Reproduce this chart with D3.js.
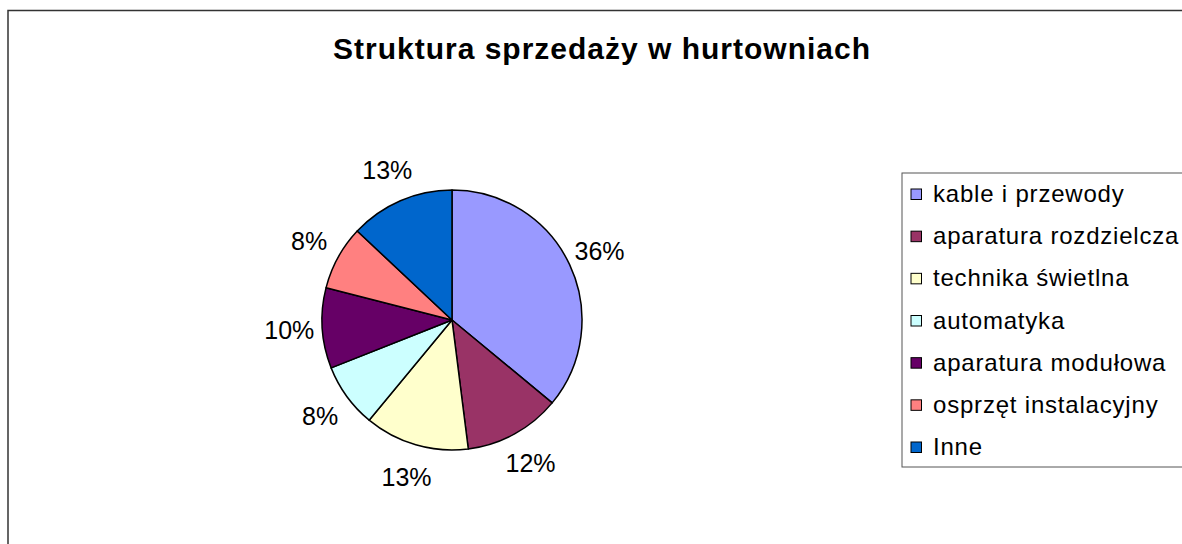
<!DOCTYPE html>
<html>
<head>
<meta charset="utf-8">
<title>Struktura sprzedaży w hurtowniach</title>
<script src="https://cdn.jsdelivr.net/npm/d3@7"></script>
<style>
  body { margin: 0; background: #fff; }
  svg { display: block; font-family: "Liberation Sans", Arial, sans-serif; }
</style>
</head>
<body>
<div id="chart"></div>
<script>
// Chart data
const categories = ["kable i przewody", "aparatura rozdzielcza", "technika świetlna", "automatyka",
                    "aparatura modułowa", "osprzęt instalacyjny", "Inne"]
const shares = [36, 12, 13, 8, 10, 8, 13]
const colors = ["#9999FF", "#993366", "#FFFFCC", "#CCFFFF", "#660066", "#FF8080", "#0066CC"]
const title = "Struktura sprzedaży w hurtowniach"

// Size
let w = 1182
let h = 544
let cx = 452
let cy = 320
let radius = 130

let svg = d3.select("#chart")
    .append("svg")
    .attr("width", w)
    .attr("height", h)

// Outer chart frame (right and bottom edges fall outside the picture)
svg.append("rect")
    .attr("x", 8)
    .attr("y", 10.5)
    .attr("width", w + 20)
    .attr("height", h + 20)
    .attr("fill", "#fff")
    .attr("stroke", "#333")
    .attr("stroke-width", 1.5)

// Title
svg.append("text")
    .attr("x", 602)
    .attr("y", 59)
    .attr("text-anchor", "middle")
    .attr("font-size", "30px")
    .attr("font-weight", "bold")
    .attr("letter-spacing", "1px")
    .text(title)

// Pie, starting at 12 o'clock and going clockwise
let pie = d3.pie().sort(null).value(d => d)
let arcs = pie(shares)

let arc = d3.arc().innerRadius(0).outerRadius(radius)
let labelArc = d3.arc().innerRadius(163).outerRadius(163)

let g = svg.append("g").attr("transform", "translate(" + cx + "," + cy + ")")

g.selectAll("path")
    .data(arcs)
    .enter()
    .append("path")
    .attr("d", arc)
    .attr("fill", (d, i) => colors[i])
    .attr("stroke", "#000")
    .attr("stroke-width", 1.5)
    .attr("stroke-linejoin", "round")

let total = d3.sum(shares)
g.selectAll("text")
    .data(arcs)
    .enter()
    .append("text")
    .attr("transform", d => "translate(" + labelArc.centroid(d) + ")")
    .attr("text-anchor", "middle")
    .attr("dy", "0.36em")
    .attr("font-size", "25px")
    .text(d => Math.round(d.value / total * 100) + "%")

// Legend
let legend = svg.append("g")

legend.append("rect")
    .attr("x", 902)
    .attr("y", 173)
    .attr("width", 320)
    .attr("height", 294)
    .attr("fill", "#fff")
    .attr("stroke", "#555")
    .attr("stroke-width", 1)

let rowY = d3.scalePoint()
    .domain(categories)
    .range([194, 447])

let items = legend.selectAll("g.item")
    .data(categories)
    .enter()
    .append("g")
    .attr("class", "item")
    .attr("transform", d => "translate(0," + rowY(d) + ")")

items.append("rect")
    .attr("x", 911)
    .attr("y", -5)
    .attr("width", 10.5)
    .attr("height", 10.5)
    .attr("fill", (d, i) => colors[i])
    .attr("stroke", "#000")
    .attr("stroke-width", 1)

items.append("text")
    .attr("x", 933)
    .attr("y", 8)
    .attr("font-size", "24px")
    .attr("letter-spacing", "0.8px")
    .text(d => d)
</script>
</body>
</html>
